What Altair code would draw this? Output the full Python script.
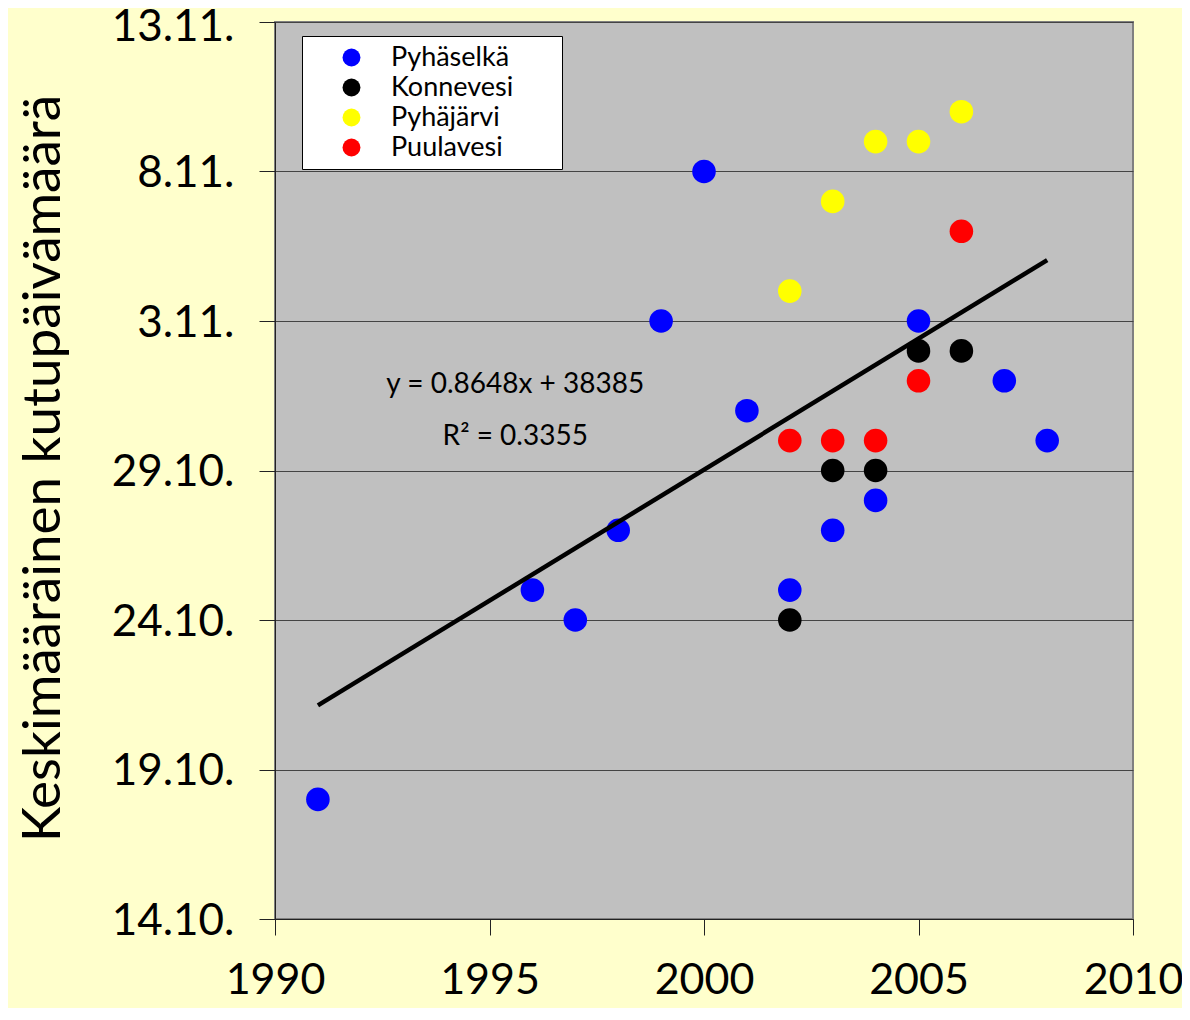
import json
import altair as alt
import pandas as pd

# Values: days after 14.10. (0 = 14.10., 5 = 19.10., ..., 30 = 13.11.)
series_names = ["Pyhäselkä", "Konnevesi", "Pyhäjärvi", "Puulavesi"]
series_colors = ["#0000FF", "#000000", "#FFFF00", "#FF0000"]

pyhaselka_years = [1991, 1996, 1997, 1998, 1999, 2000, 2001, 2002, 2003, 2004, 2005, 2007, 2008]
pyhaselka_days = [4, 11, 10, 13, 20, 25, 17, 11, 13, 14, 20, 18, 16]

konnevesi_years = [2002, 2003, 2004, 2005, 2006]
konnevesi_days = [10, 15, 15, 19, 19]

pyhajarvi_years = [2002, 2003, 2004, 2005, 2006]
pyhajarvi_days = [21, 24, 26, 26, 27]

puulavesi_years = [2002, 2003, 2004, 2005, 2006]
puulavesi_days = [16, 16, 16, 18, 23]

y_tick_values = [0, 5, 10, 15, 20, 25, 30]
y_tick_labels = ["14.10.", "19.10.", "24.10.", "29.10.", "3.11.", "8.11.", "13.11."]
x_tick_values = [1990, 1995, 2000, 2005, 2010]

annot_texts = ["y = 0.8648x + 38385", "R² = 0.3355"]
annot_x = [1995.6, 1995.6]
annot_y = [17.86, 16.12]

rows = []
for name, yrs, dys in [
    (series_names[0], pyhaselka_years, pyhaselka_days),
    (series_names[1], konnevesi_years, konnevesi_days),
    (series_names[2], pyhajarvi_years, pyhajarvi_days),
    (series_names[3], puulavesi_years, puulavesi_days),
]:
    for yr, d in zip(yrs, dys):
        rows.append({"year": yr, "day": d, "series": name})
df = pd.DataFrame(rows)
annot_df = pd.DataFrame({"x": annot_x, "y": annot_y, "text": annot_texts})

FONT = "Lato"
label_expr = json.dumps(y_tick_labels) + "[round(datum.value / 5)]"
legend_pad = "\u00a0" * 3 + "\u2800"

x_enc = alt.X(
    "year:Q",
    scale=alt.Scale(domain=[1990, 2010], nice=False, zero=False),
    axis=alt.Axis(
        values=x_tick_values, format="d", title=None, grid=False,
        labelFontSize=43, labelFont=FONT, labelColor="black",
        tickSize=16, tickColor="#222", domainColor="#222",
        labelPadding=24, labelFlush=False, labelOverlap=False,
    ),
)
y_enc = alt.Y(
    "day:Q",
    scale=alt.Scale(domain=[0, 30], nice=False, zero=False),
    axis=alt.Axis(
        values=y_tick_values, labelExpr=label_expr,
        title="Keskimääräinen kutupäivämäärä",
        titleFont=FONT, titleFontSize=53, titleFontWeight="normal", titleColor="black",
        titleX=-232, titleY=446, titleAngle=270, titleBaseline="middle", titleAlign="center",
        labelFontSize=44, labelFont=FONT, labelColor="black",
        labelOffset={"condition": {"test": "datum.value >= 30", "value": 5}, "value": 2},
        tickSize=16, tickColor="#222", domainColor="#222",
        grid=True, gridColor="#444", gridWidth=1,
        labelPadding=25, labelFlush=False, labelOverlap=False,
    ),
)

points = alt.Chart(df).mark_circle(size=555, opacity=1).encode(
    x=x_enc,
    y=y_enc,
    color=alt.Color(
        "series:N",
        scale=alt.Scale(domain=series_names, range=series_colors),
        sort=series_names,
        legend=alt.Legend(
            title=None, orient="none", legendX=27, legendY=14,
            symbolType="circle", symbolSize=320, symbolOffset=28,
            labelFont=FONT, labelFontSize=27, labelColor="black", labelOffset=26,
            labelLimit=300,
            fillColor="white", strokeColor="black", padding=8, rowPadding=2,
            labelExpr="datum.label + '" + legend_pad + "'",
        ),
    ),
)

trend = alt.Chart(df).transform_regression("year", "day").mark_line(
    color="black", strokeWidth=4.5
).encode(x="year:Q", y="day:Q")

annot = alt.Chart(annot_df).mark_text(
    font=FONT, fontSize=28, color="black", align="center", baseline="middle"
).encode(x="x:Q", y="y:Q", text="text:N")

chart = alt.layer(points, trend, annot).properties(
    width=858, height=897,
    background="#FFFFCC",
    padding={"left": 267, "top": 14, "right": 49, "bottom": 89},
    autosize=alt.AutoSizeParams(type="none"),
).configure_view(
    fill="#C0C0C0", stroke="#808080", strokeWidth=2
)

chart.save("out.html", embed_options={"renderer": "svg", "actions": False})
